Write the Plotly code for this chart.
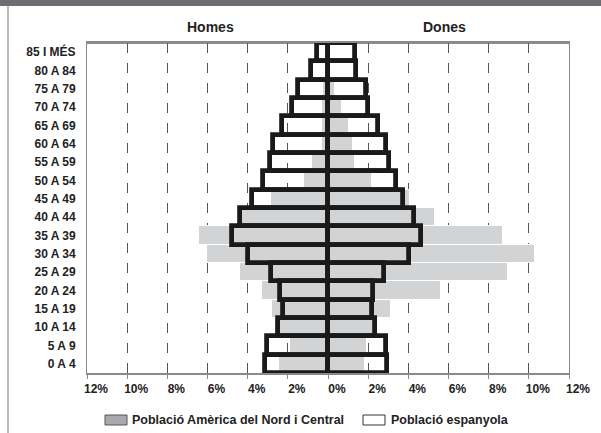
import plotly.graph_objects as go

age_groups = ["0 A 4", "5 A 9", "10 A 14", "15 A 19", "20 A 24", "25 A 29",
              "30 A 34", "35 A 39", "40 A 44", "45 A 49", "50 A 54", "55 A 59",
              "60 A 64", "65 A 69", "70 A 74", "75 A 79", "80 A 84", "85 I MÉS"]

# percentages, from youngest (bottom) to oldest (top)
esp_homes = [3.13, 3.06, 2.48, 2.25, 2.38, 2.83, 4.00, 4.78, 4.37, 3.76, 3.26, 2.88,
             2.76, 2.28, 1.80, 1.47, 0.86, 0.53]
esp_dones = [2.94, 2.91, 2.33, 2.17, 2.25, 2.78, 4.02, 4.62, 4.27, 3.74, 3.39, 3.06,
             2.91, 2.50, 1.99, 1.89, 1.37, 1.32]
amn_homes = [2.42, 1.89, 2.65, 2.80, 3.29, 4.37, 6.05, 6.44, 4.30, 2.83, 1.22, 0.81,
             0.31, 0.30, 0.31, 0.23, 0.10, 0.05]
amn_dones = [1.84, 1.95, 2.30, 3.13, 5.61, 8.95, 10.30, 8.70, 5.31, 4.10, 2.17, 1.34,
             1.26, 1.04, 0.71, 0.35, 0.10, 0.10]

tick_vals = [-12, -10, -8, -6, -4, -2, 0, 2, 4, 6, 8, 10, 12]
tick_text = ["12%", "10%", "8%", "6%", "4%", "2%", "0%", "2%", "4%", "6%", "8%", "10%", "12%"]

legend_labels = ["Població Amèrica del Nord i Central", "Població espanyola"]
side_titles = ["Homes", "Dones"]

FONT = "Liberation Sans, Arial, sans-serif"
GREY = "#d2d3d5"

fig = go.Figure()
fig.add_trace(go.Bar(y=age_groups, x=[-v for v in amn_homes], orientation="h",
                     marker=dict(color=GREY, line=dict(color="white", width=1)),
                     name=legend_labels[0], showlegend=False, hoverinfo="skip"))
fig.add_trace(go.Bar(y=age_groups, x=amn_dones, orientation="h",
                     marker=dict(color=GREY, line=dict(color="white", width=1)),
                     name=legend_labels[0], showlegend=False, hoverinfo="skip"))
fig.add_trace(go.Bar(y=age_groups, x=[-v for v in esp_homes], orientation="h",
                     marker=dict(color="rgba(0,0,0,0)", line=dict(color="#1a1a1a", width=4.8)),
                     name=legend_labels[1], showlegend=False, cliponaxis=False, hoverinfo="skip"))
fig.add_trace(go.Bar(y=age_groups, x=esp_dones, orientation="h",
                     marker=dict(color="rgba(0,0,0,0)", line=dict(color="#1a1a1a", width=4.8)),
                     name=legend_labels[1], showlegend=False, cliponaxis=False, hoverinfo="skip"))

# plot area in pixels: x 87..569, y 43..373
L, R, T, B = 87, 569, 43, 373
W, H = 601, 433
def px(x):
    return (x - L) / (R - L)
def py(y):
    return (B - y) / (B - T)

shapes = [
    # header band
    dict(type="rect", xref="paper", yref="paper", x0=px(-2), x1=px(W + 2), y0=py(6), y1=py(-2),
         fillcolor="#6d6e71", line=dict(width=0), layer="above"),
    # left page border line
    dict(type="line", xref="paper", yref="paper", x0=px(8), x1=px(8), y0=py(6), y1=py(H + 2),
         line=dict(color="#8a8a8a", width=1.2)),
    # top plot border
    dict(type="line", xref="paper", yref="paper", x0=0, x1=1, y0=1, y1=1,
         line=dict(color="#222222", width=1), layer="below"),
    # legend swatches
    dict(type="rect", xref="paper", yref="paper", x0=px(105), x1=px(127), y0=py(425), y1=py(415),
         fillcolor="#a7a9ac", line=dict(color="#555555", width=1)),
    dict(type="rect", xref="paper", yref="paper", x0=px(363), x1=px(385), y0=py(425), y1=py(415),
         fillcolor="white", line=dict(color="#333333", width=1)),
]

annotations = [
    dict(text="<b>%s</b>" % side_titles[0], xref="paper", yref="paper", x=px(210), y=py(27),
         xanchor="center", yanchor="middle",
         showarrow=False, font=dict(size=14, color="#222222", family=FONT)),
    dict(text="<b>%s</b>" % side_titles[1], xref="paper", yref="paper", x=px(444), y=py(27),
         xanchor="center", yanchor="middle",
         showarrow=False, font=dict(size=14, color="#222222", family=FONT)),
    dict(text="<b>%s</b>" % legend_labels[0], xref="paper", yref="paper", x=px(130), y=py(420),
         xanchor="left", yanchor="middle", showarrow=False,
         font=dict(size=12.5, color="#222222", family=FONT)),
    dict(text="<b>%s</b>" % legend_labels[1], xref="paper", yref="paper", x=px(389), y=py(420),
         xanchor="left", yanchor="middle", showarrow=False,
         font=dict(size=12.5, color="#222222", family=FONT)),
]

fig.update_layout(
    width=W, height=H,
    margin=dict(l=L, r=W - R, t=T, b=H - B, pad=0, autoexpand=False),
    paper_bgcolor="white", plot_bgcolor="white",
    barmode="overlay", bargap=0,
    showlegend=False,
    shapes=shapes, annotations=annotations,
    font=dict(family=FONT, color="#222222"),
)
fig.update_xaxes(
    range=[-12, 12], tickvals=tick_vals, ticktext=["<b>%s</b>" % t for t in tick_text],
    tickfont=dict(size=12, family=FONT, color="#222222"),
    showgrid=True, gridcolor="#555555", gridwidth=1.3, griddash="10px,10px",
    zeroline=False, showline=True, linecolor="#8a8a8a", linewidth=1.5, mirror=True,
    ticks="outside", ticklen=4, tickcolor="#8a8a8a", ticklabelshift=9,
    automargin=False, fixedrange=True,
)
fig.update_yaxes(
    type="category", range=[-0.5, 17.5],
    tickvals=age_groups, ticktext=["<b>%s</b>" % a for a in age_groups],
    tickfont=dict(size=12, family=FONT, color="#222222"),
    showgrid=False, zeroline=False, showline=True, linecolor="#8a8a8a", linewidth=1,
    mirror=True, ticks="", ticklabelstandoff=8, automargin=False, fixedrange=True,
)

fig.write_html(
    "out.html",
    config={"displayModeBar": False},
    post_script="document.body.style.margin='0';document.body.style.padding='0';document.body.style.overflow='hidden';",
)
